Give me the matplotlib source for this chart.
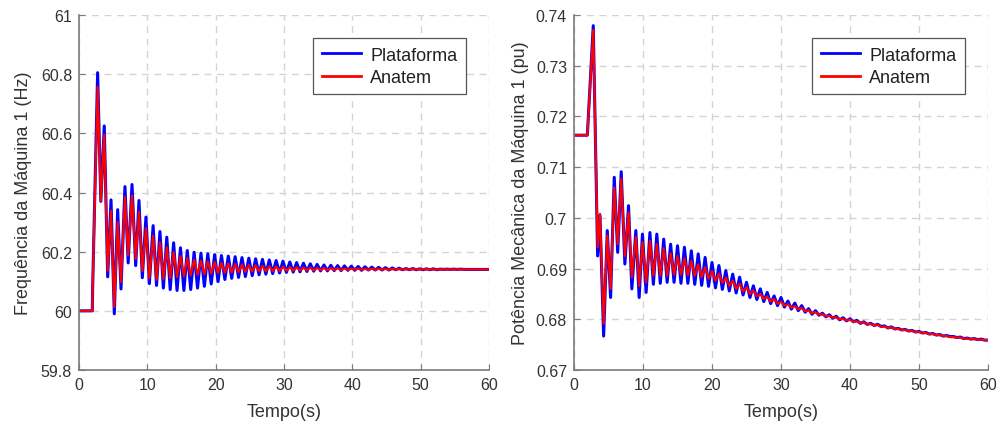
import numpy as np
import matplotlib
matplotlib.use("Agg")
import matplotlib.pyplot as plt
from matplotlib.ticker import FuncFormatter

plt.rcParams['font.family'] = ['Liberation Sans', 'DejaVu Sans']

series_names = ['Plataforma', 'Anatem']
x_ticks = [0, 10, 20, 30, 40, 50, 60]

# ---- Frequência: transitório inicial (instantes e extremos lidos um a um)
t_freq_ini = [0, 1.95, 2.0, 2.73, 3.2, 3.7, 4.2, 4.69, 5.17, 5.66, 6.15,
              6.73, 7.2, 7.76, 8.3, 8.78, 9.27, 9.8, 10.3]
freq_plat_ini = [60.0, 60.0, 60.075, 60.805, 60.37, 60.625, 60.115, 60.375,
                 59.99, 60.342, 60.074, 60.42, 60.162, 60.427, 60.153, 60.373,
                 60.112, 60.317, 60.092]
freq_anat_ini = [60.0, 60.0, 60.075, 60.757, 60.372, 60.595, 60.136, 60.338,
                 60.013, 60.300, 60.098, 60.385, 60.187, 60.390, 60.176, 60.335,
                 60.135, 60.280, 60.110]

# picos (10.85 s, 11.85 s, ...) e vales (11.35 s, 12.35 s, ...) da oscilação
freq_plat_picos = [60.288, 60.268, 60.249, 60.230, 60.213, 60.204, 60.198, 60.195, 60.193, 60.190,
                   60.187, 60.185, 60.183, 60.180, 60.178, 60.176, 60.174, 60.172, 60.170, 60.168,
                   60.165, 60.163, 60.161, 60.159, 60.157, 60.155, 60.154, 60.153, 60.152, 60.151,
                   60.150, 60.149, 60.148, 60.147, 60.146, 60.145, 60.144, 60.143, 60.143, 60.142,
                   60.142, 60.142, 60.141, 60.141, 60.141, 60.141, 60.140, 60.140, 60.140, 60.140]
freq_plat_vales = [60.086, 60.077, 60.072, 60.069, 60.069, 60.072, 60.077, 60.083, 60.091, 60.099,
                   60.106, 60.110, 60.113, 60.116, 60.119, 60.122, 60.124, 60.126, 60.128, 60.130,
                   60.131, 60.132, 60.133, 60.134, 60.135, 60.135, 60.136, 60.136, 60.137, 60.137,
                   60.137, 60.138, 60.138, 60.138, 60.138, 60.139, 60.139, 60.139, 60.139, 60.139,
                   60.139, 60.139, 60.140, 60.140, 60.140, 60.140, 60.140, 60.140, 60.140]
freq_anat_picos = [60.254, 60.232, 60.215, 60.198, 60.185, 60.178, 60.173, 60.169, 60.167, 60.165,
                   60.162, 60.160, 60.158, 60.156, 60.155, 60.154, 60.152, 60.151, 60.150, 60.149,
                   60.148, 60.147, 60.146, 60.146, 60.145, 60.145, 60.144, 60.144, 60.143, 60.143,
                   60.143, 60.142, 60.142, 60.142, 60.142, 60.141, 60.141, 60.141, 60.141, 60.141,
                   60.141, 60.140, 60.140, 60.140, 60.140, 60.140, 60.140, 60.140, 60.140, 60.140]
freq_anat_vales = [60.105, 60.108, 60.111, 60.114, 60.117, 60.120, 60.122, 60.124, 60.126, 60.128,
                   60.129, 60.130, 60.131, 60.132, 60.133, 60.134, 60.134, 60.135, 60.135, 60.136,
                   60.136, 60.137, 60.137, 60.137, 60.138, 60.138, 60.138, 60.138, 60.139, 60.139,
                   60.139, 60.139, 60.139, 60.139, 60.139, 60.140, 60.140, 60.140, 60.140, 60.140,
                   60.140, 60.140, 60.140, 60.140, 60.140, 60.140, 60.140, 60.140, 60.140]
freq_final = 60.140

# ---- Potência mecânica: transitório inicial
t_pot_ini = [0, 1.93, 2.79, 3.42, 3.76, 4.29, 4.82, 5.3, 5.83, 6.33, 6.84,
             7.37, 7.9, 8.38, 8.96, 9.44, 9.92, 10.45]
pot_plat_ini = [0.7163, 0.7163, 0.7379, 0.6925, 0.7005, 0.6767, 0.6975, 0.6843, 0.7080,
                0.6932, 0.7091, 0.6909, 0.7024, 0.6860, 0.6975, 0.6843, 0.6968, 0.6853]
pot_anat_ini = [0.7163, 0.7163, 0.7370, 0.6942, 0.7008, 0.6791, 0.6965, 0.6860, 0.7060,
                0.6948, 0.7077, 0.6925, 0.7011, 0.6883, 0.6962, 0.6866, 0.6952, 0.6873]

# picos (11 s, 12 s, ...) e vales (11.5 s, 12.5 s, ...)
pot_plat_picos = [0.6971, 0.6968, 0.6958, 0.6948, 0.6945, 0.6942, 0.6935, 0.6929, 0.6922,
                  0.6912, 0.6906, 0.6896, 0.6889, 0.6883, 0.6873, 0.6866, 0.6860, 0.6853, 0.6846,
                  0.6843, 0.6836, 0.6832, 0.6827, 0.6821, 0.6817, 0.6812, 0.6809, 0.6806, 0.6803,
                  0.6801, 0.6798, 0.6795, 0.6792, 0.6790, 0.6787, 0.6785, 0.6782, 0.6780, 0.6778,
                  0.6776, 0.6774, 0.6772, 0.6770, 0.6768, 0.6766, 0.6765, 0.6763, 0.6762, 0.6761]
pot_plat_vales = [0.6869, 0.6871, 0.6873, 0.6873, 0.6871, 0.6871, 0.6869, 0.6867, 0.6865,
                  0.6862, 0.6859, 0.6856, 0.6852, 0.6848, 0.6843, 0.6839, 0.6835, 0.6831, 0.6827,
                  0.6824, 0.6820, 0.6817, 0.6814, 0.6810, 0.6808, 0.6805, 0.6802, 0.6799, 0.6797,
                  0.6795, 0.6792, 0.6790, 0.6788, 0.6786, 0.6783, 0.6781, 0.6779, 0.6777, 0.6775,
                  0.6773, 0.6771, 0.6769, 0.6767, 0.6766, 0.6764, 0.6762, 0.6761, 0.6760, 0.6759]
pot_anat_picos = [0.6955, 0.6948, 0.6940, 0.6930, 0.6925, 0.6920, 0.6915, 0.6908, 0.6903,
                  0.6895, 0.6890, 0.6882, 0.6876, 0.6870, 0.6863, 0.6857, 0.6850, 0.6845, 0.6840,
                  0.6835, 0.6830, 0.6826, 0.6822, 0.6818, 0.6814, 0.6810, 0.6807, 0.6804, 0.6801,
                  0.6799, 0.6796, 0.6794, 0.6791, 0.6789, 0.6786, 0.6784, 0.6781, 0.6779, 0.6777,
                  0.6775, 0.6773, 0.6771, 0.6769, 0.6767, 0.6765, 0.6764, 0.6762, 0.6761, 0.6760]
pot_anat_vales = [0.6886, 0.6886, 0.6886, 0.6888, 0.6888, 0.6887, 0.6886, 0.6883, 0.6880,
                  0.6876, 0.6872, 0.6866, 0.6860, 0.6855, 0.6850, 0.6845, 0.6840, 0.6835, 0.6831,
                  0.6827, 0.6823, 0.6820, 0.6816, 0.6812, 0.6809, 0.6806, 0.6803, 0.6800, 0.6798,
                  0.6795, 0.6793, 0.6790, 0.6788, 0.6785, 0.6783, 0.6781, 0.6779, 0.6777, 0.6775,
                  0.6773, 0.6771, 0.6769, 0.6767, 0.6765, 0.6764, 0.6762, 0.6761, 0.6760, 0.6759]
pot_final = 0.6759


def monta_serie(t_ini, v_ini, t_pico0, picos, t_vale0, vales, v_fim, t_fim=60.0):
    """Junta o trecho inicial com os picos/vales (espaçados de 1 s) em ordem."""
    t_p = t_pico0 + np.arange(len(picos))
    t_v = t_vale0 + np.arange(len(vales))
    t_osc = np.concatenate([t_p, t_v])
    v_osc = np.concatenate([picos, vales])
    ordem = np.argsort(t_osc)
    t = np.concatenate([t_ini, t_osc[ordem], [t_fim]])
    v = np.concatenate([v_ini, v_osc[ordem], [v_fim]])
    return t, v


tf_p, f_p = monta_serie(t_freq_ini, freq_plat_ini, 10.85, freq_plat_picos, 11.35, freq_plat_vales, freq_final)
tf_a, f_a = monta_serie(t_freq_ini, freq_anat_ini, 10.85, freq_anat_picos, 11.35, freq_anat_vales, freq_final)
tp_p, p_p = monta_serie(t_pot_ini, pot_plat_ini, 11.0, pot_plat_picos, 11.5, pot_plat_vales, pot_final)
tp_a, p_a = monta_serie(t_pot_ini, pot_anat_ini, 11.0, pot_anat_picos, 11.5, pot_anat_vales, pot_final)

cor_texto = '#333333'
cor_eixo = '#7a7a7a'

fig = plt.figure(figsize=(10.06, 4.27), dpi=100)
ax1 = fig.add_axes([0.0785, 0.1311, 0.4076, 0.8314])
ax2 = fig.add_axes([0.5706, 0.1311, 0.4115, 0.8314])

paineis = [
    (ax1, (tf_p, f_p), (tf_a, f_a), (59.8, 61.0), np.arange(59.8, 61.01, 0.2),
     'Frequência da Máquina 1 (Hz)', 6),
    (ax2, (tp_p, p_p), (tp_a, p_a), (0.67, 0.74), np.arange(0.67, 0.7401, 0.01),
     'Potência Mecânica da Máquina 1 (pu)', 5),
]

for ax, plat, anat, ylim, yticks, ylabel, ypad in paineis:
    ax.plot(plat[0], plat[1], color='#0000ff', lw=2.2, label=series_names[0])
    ax.plot(anat[0], anat[1], color='#ff0000', lw=1.6, label=series_names[1])
    ax.set_xlim(0, 60)
    ax.set_ylim(*ylim)
    ax.set_xticks(x_ticks)
    ax.set_yticks(yticks)
    ax.yaxis.set_major_formatter(FuncFormatter(lambda v, pos: '%g' % round(v, 4)))
    ax.grid(True, color='#d4d4d4', linestyle=(0, (5, 4)), linewidth=1.0)
    ax.set_axisbelow(True)
    for lado in ['top', 'right']:
        ax.spines[lado].set_visible(False)
    for lado in ['left', 'bottom']:
        ax.spines[lado].set_color(cor_eixo)
        ax.spines[lado].set_linewidth(1.2)
    ax.tick_params(direction='in', length=4, width=0.8, color=cor_eixo,
                   labelsize=11.5, labelcolor=cor_texto, pad=5)
    ax.set_xlabel('Tempo(s)', fontsize=13, color=cor_texto, labelpad=8)
    ax.set_ylabel(ylabel, fontsize=13, color=cor_texto, labelpad=ypad)
    leg = ax.legend(loc='upper right', fontsize=13, fancybox=False,
                    edgecolor='#555555', framealpha=1, handlelength=2.2,
                    borderaxespad=1.3, borderpad=0.45, labelspacing=0.3,
                    handletextpad=0.5)
    leg.get_frame().set_linewidth(0.9)
    for txt in leg.get_texts():
        txt.set_color('#222222')
    for linha in leg.get_lines():
        linha.set_linewidth(2.0)

fig.savefig('out.png', dpi=100, facecolor='white')
